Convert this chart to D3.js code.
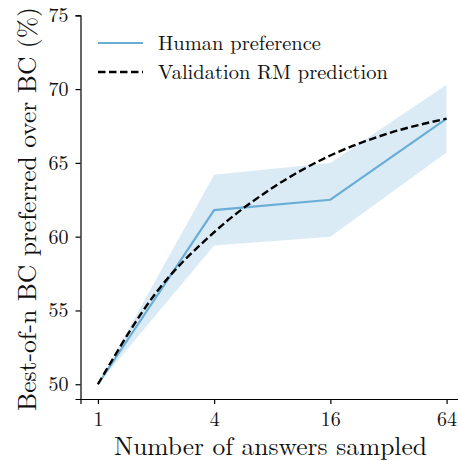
<!DOCTYPE html>
<html>
<head>
<meta charset="utf-8">
<script src="https://cdn.jsdelivr.net/npm/d3@7"></script>
<style>
  html, body { margin: 0; padding: 0; background: #fff; }
  svg { display: block; }
</style>
</head>
<body>
<div id="chart"></div>
<script>
// Data
const sampleCounts = [1, 4, 16, 64];
const humanPref = [50, 61.8, 62.5, 68.0];
const humanLow = [50, 59.4, 60.0, 65.7];
const humanHigh = [50, 64.2, 65.0, 70.3];

const rmCounts = [1, 2, 4, 8, 16, 32, 64];
const rmPred = [50, 56.2, 60.3, 63.3, 65.5, 67.0, 68.0];

const xTicks = [1, 4, 16, 64];
const yTicks = [50, 55, 60, 65, 70, 75];

const seriesNames = ['Human preference', 'Validation RM prediction'];

const W = 458, H = 461;
const FONT = '"Latin Modern Roman"';
const blue = '#6aaed6';
const textColor = '#111';

const svg = d3.select('#chart').append('svg')
  .attr('width', W)
  .attr('height', H);

// log4 scale with matplotlib-style 5% padding
const x = d3.scaleLog().base(4)
  .domain([Math.pow(4, -0.15), Math.pow(4, 3.15)])
  .range([80.5, 464]);

const y = d3.scaleLinear()
  .domain([49, 75])
  .range([399, 15.3]);

// Confidence band
const band = d3.area()
  .x((d, i) => x(sampleCounts[i]))
  .y0((d, i) => y(humanLow[i]))
  .y1((d, i) => y(humanHigh[i]));

svg.append('path')
  .datum(sampleCounts)
  .attr('d', band)
  .style('fill', blue)
  .style('fill-opacity', 0.25)
  .style('stroke', 'none');

// Human preference line
const humanLine = d3.line()
  .x((d, i) => x(sampleCounts[i]))
  .y((d, i) => y(humanPref[i]));

svg.append('path')
  .datum(sampleCounts)
  .attr('d', humanLine)
  .style('fill', 'none')
  .style('stroke', blue)
  .style('stroke-width', 2.2);

// RM prediction (dashed, smooth)
const rmLine = d3.line()
  .x((d, i) => x(rmCounts[i]))
  .y((d, i) => y(rmPred[i]))
  .curve(d3.curveMonotoneX);

svg.append('path')
  .datum(rmCounts)
  .attr('d', rmLine)
  .style('fill', 'none')
  .style('stroke', '#000')
  .style('stroke-width', 2.4)
  .style('stroke-dasharray', '7.5,3.5');

// X axis
const xAxis = svg.append('g')
  .attr('transform', `translate(0,${y(49)})`)
  .call(d3.axisBottom(x).tickValues(xTicks).tickFormat(d3.format('d')).tickSizeOuter(0).tickSize(5).tickPadding(8));

// Y axis
const yAxis = svg.append('g')
  .attr('transform', `translate(${x.range()[0]},0)`)
  .call(d3.axisLeft(y).tickValues(yTicks).tickSizeOuter(0).tickSize(5).tickPadding(7));

[xAxis, yAxis].forEach(ax => {
  ax.attr('font-family', null).attr('font-size', null);
  ax.select('.domain').style('stroke', '#000').style('stroke-width', 1.2);
  ax.selectAll('.tick line').style('stroke', '#000').style('stroke-width', 1.2);
  ax.selectAll('.tick text')
    .style('font-family', FONT)
    .style('font-size', '20px')
    .style('fill', textColor);
});

// Axis labels
svg.append('text')
  .attr('x', 270.5)
  .attr('y', 455)
  .attr('text-anchor', 'middle')
  .style('font-family', FONT)
  .style('font-size', '25.5px')
  .style('fill', textColor)
  .text('Number of answers sampled');

svg.append('text')
  .attr('transform', 'translate(36,209) rotate(-90)')
  .attr('text-anchor', 'middle')
  .style('font-family', FONT)
  .style('font-size', '25.5px')
  .style('fill', textColor)
  .text('Best-of-n BC preferred over BC (%)');

// Legend
const legend = svg.append('g');
const legendRows = [
  { name: seriesNames[0], color: blue, dash: null, width: 2.2, y: 43 },
  { name: seriesNames[1], color: '#000', dash: '7.5,3.5', width: 2.4, y: 72 }
];
legendRows.forEach(r => {
  legend.append('line')
    .attr('x1', 98).attr('x2', 143)
    .attr('y1', r.y).attr('y2', r.y)
    .style('stroke', r.color)
    .style('stroke-width', r.width)
    .style('stroke-dasharray', r.dash);
  legend.append('text')
    .attr('x', 158)
    .attr('y', r.y + 7)
    .style('font-family', FONT)
    .style('font-size', '20.5px')
    .style('fill', textColor)
    .text(r.name);
});
</script>
</body>
</html>
